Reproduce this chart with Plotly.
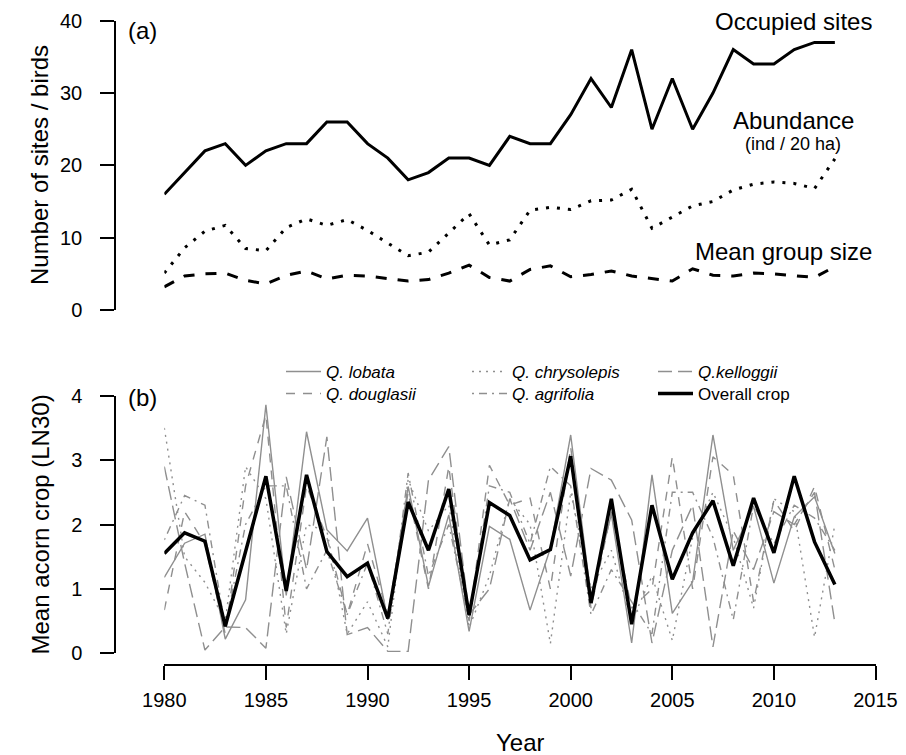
import plotly.graph_objects as go

# ---------------- data ----------------
years = list(range(1980, 2014))

occupied_sites = [16, 19, 22, 23, 20, 22, 23, 23, 26, 26, 23, 21, 18, 19, 21, 21, 20,
                  24, 23, 23, 27, 32, 28, 36, 25, 32, 25, 30, 36, 34, 34, 36, 37, 37]
abundance = [5.1, 8.6, 10.9, 11.7, 8.5, 8.2, 11.4, 12.6, 11.7, 12.5, 11.0, 9.3, 7.5, 8.0,
             10.7, 13.3, 9.0, 9.7, 13.8, 14.2, 13.9, 15.1, 15.2, 16.7, 11.3, 12.8, 14.4,
             15.0, 16.6, 17.4, 17.7, 17.5, 16.8, 20.9]
group_size = [3.2, 4.7, 5.0, 5.1, 4.1, 3.6, 4.8, 5.4, 4.3, 4.8, 4.7, 4.3, 4.0, 4.2, 5.1,
              6.2, 4.5, 4.0, 5.6, 6.1, 4.6, 4.9, 5.4, 4.7, 4.3, 4.0, 5.7, 4.8, 4.7, 5.1,
              5.0, 4.7, 4.5, 6.0]

q_lobata = [1.18, 1.71, 1.85, 0.22, 0.83, 3.86, 0.90, 3.44, 1.92, 1.59, 2.10, 0.52, 2.59,
            1.04, 2.15, 0.34, 1.97, 1.77, 0.67, 1.63, 3.39, 0.88, 2.16, 0.16, 2.77, 0.62,
            1.11, 3.39, 1.60, 2.28, 1.09, 2.12, 2.43, 1.55]
q_douglasii = [0.67, 2.2, 1.7, 0.3, 2.6, 3.7, 0.4, 2.6, 1.8, 0.6, 1.7, 0.6, 2.5, 1.0, 2.9,
               0.5, 2.92, 2.3, 2.41, 1.0, 3.2, 0.7, 2.2, 0.7, 1.0, 3.05, 1.0, 3.05, 2.77,
               0.8, 2.38, 1.9, 2.59, 1.3]
q_chrysolepis = [3.5, 1.5, 1.1, 0.5, 2.9, 2.4, 0.3, 2.0, 1.9, 0.3, 0.8, 0.1, 2.7, 1.9, 2.3,
                 0.4, 1.2, 2.4, 2.0, 0.15, 2.5, 1.0, 1.6, 0.5, 1.2, 0.2, 1.8, 2.5, 1.8, 0.7,
                 2.4, 2.2, 0.25, 2.0]
q_agrifolia = [1.76, 2.45, 2.30, 0.4, 2.0, 2.6, 2.6, 1.0, 1.6, 0.6, 1.4, 0.3, 2.8, 1.2, 2.0,
               0.5, 2.6, 2.5, 1.7, 2.9, 2.6, 0.6, 1.3, 0.8, 0.3, 2.5, 2.5, 1.8, 0.52, 2.3,
               1.7, 2.3, 2.1, 1.6]
q_kelloggii = [2.9, 1.4, 0.05, 0.41, 0.40, 0.08, 2.74, 1.3, 3.36, 0.29, 0.40, 0.03, 0.03,
               2.69, 3.21, 0.6, 1.0, 2.4, 1.6, 2.5, 1.2, 2.87, 2.69, 2.07, 0.16, 1.6, 2.3,
               0.10, 1.9, 1.3, 2.2, 2.0, 2.5, 0.47]
overall_crop = [1.55, 1.87, 1.74, 0.42, 1.58, 2.75, 0.97, 2.77, 1.58, 1.19, 1.40, 0.54, 2.35,
                1.60, 2.55, 0.59, 2.34, 2.14, 1.45, 1.61, 3.06, 0.78, 2.40, 0.45, 2.30, 1.15,
                1.87, 2.37, 1.36, 2.41, 1.56, 2.75, 1.73, 1.07]

x_ticks = [1980, 1985, 1990, 1995, 2000, 2005, 2010, 2015]
ya_ticks = [0, 10, 20, 30, 40]
yb_ticks = [0, 1, 2, 3, 4]

# ---------------- layout helpers ----------------
# The page body has an 8px margin, so the figure is drawn 8px in from the
# window's top-left corner; positions below are given in window pixels.
OFF = 8
W, H = 906 - OFF, 755 - OFF
FONT = "Liberation Sans, Arial, Helvetica, sans-serif"


def px(p):
    return (p - OFF) / W


def py(p):
    return 1 - (p - OFF) / H


GRAY = "#8f8f8f"

fig = go.Figure()

# panel (a)
fig.add_trace(go.Scatter(x=years, y=occupied_sites, mode="lines", xaxis="x2", yaxis="y2",
                         line=dict(color="black", width=3), showlegend=False))
fig.add_trace(go.Scatter(x=years, y=abundance, mode="lines", xaxis="x2", yaxis="y2",
                         line=dict(color="black", width=3, dash="3px,8px"), showlegend=False))
fig.add_trace(go.Scatter(x=years, y=group_size, mode="lines", xaxis="x2", yaxis="y2",
                         line=dict(color="black", width=3, dash="11px,11px"), showlegend=False))

# panel (b): (name, values, dash, legend id, column, row)
species = [
    ("<i>Q. lobata</i>", q_lobata, "solid", "legend", 0, 0),
    ("<i>Q. douglasii</i>", q_douglasii, "9px,8px", "legend2", 0, 1),
    ("<i>Q. chrysolepis</i>", q_chrysolepis, "2px,5px", "legend3", 1, 0),
    ("<i>Q. agrifolia</i>", q_agrifolia, "2px,5px,8px,5px", "legend4", 1, 1),
    ("<i>Q.kelloggii</i>", q_kelloggii, "14px,6px", "legend5", 2, 0),
]
legend_pos = {}
for name, vals, dash, leg, col, row in species:
    fig.add_trace(go.Scatter(x=years, y=vals, mode="lines", name=name, legend=leg,
                             line=dict(color=GRAY, width=1.4, dash=dash)))
    legend_pos[leg] = (col, row)
fig.add_trace(go.Scatter(x=years, y=overall_crop, mode="lines", name="Overall crop",
                         legend="legend6", line=dict(color="black", width=3.5)))
legend_pos["legend6"] = (2, 1)

xdom = [px(164.3), px(875.5)]
axis_common = dict(showgrid=False, zeroline=False, showline=True, linecolor="black",
                   linewidth=1.5, ticks="outside", ticklen=14, tickwidth=1.5,
                   tickcolor="black", automargin=False,
                   tickfont=dict(family=FONT, size=20, color="black"))

fig.update_layout(
    width=W, height=H,
    margin=dict(l=0, r=0, t=0, b=0, autoexpand=False),
    paper_bgcolor="white", plot_bgcolor="white",
    font=dict(family=FONT, color="black"),
    xaxis=dict(domain=xdom, range=[1980, 2015], anchor="free", position=py(665),
               tickvals=x_ticks, ticklabelstandoff=3, **axis_common),
    yaxis=dict(domain=[py(653.3), py(395.7)], range=[0, 4], anchor="free",
               position=px(115), tickvals=yb_ticks, ticklabelstandoff=14, **axis_common),
    xaxis2=dict(domain=xdom, range=[1980, 2015], anchor="y2", visible=False),
    yaxis2=dict(domain=[py(310), py(20.7)], range=[0, 40], anchor="free",
                position=px(115), tickvals=ya_ticks, ticklabelstandoff=14, **axis_common),
)

col_x = [282, 468, 654]
row_y = [372, 394]
for leg, (col, row) in legend_pos.items():
    fig.update_layout({leg: dict(x=px(col_x[col] - 1), y=py(row_y[row]), xanchor="left",
                                 yanchor="middle", orientation="v", itemwidth=35,
                                 bgcolor="rgba(0,0,0,0)", borderwidth=0,
                                 font=dict(family=FONT, size=17, color="black"))})

annotations = [
    dict(text="(a)", x=px(127), y=py(30), xanchor="left", size=24, h=28),
    dict(text="(b)", x=px(127), y=py(397), xanchor="left", size=24, h=28),
    dict(text="Occupied sites", x=px(793), y=py(21.5), xanchor="center", size=24, h=27),
    dict(text="Abundance", x=px(793), y=py(120), xanchor="center", size=24, h=22),
    dict(text="(ind / 20 ha)", x=px(793), y=py(143.5), xanchor="center", size=18, h=20),
    dict(text="Mean group size", x=px(783), y=py(251), xanchor="center", size=24, h=28),
    dict(text="Year", x=px(520), y=py(742), xanchor="center", size=24, h=24),
]
for a in annotations:
    fig.add_annotation(text=a["text"], x=a["x"], y=a["y"], xref="paper", yref="paper",
                       xanchor=a["xanchor"], yanchor="middle", showarrow=False,
                       height=a["h"], valign="middle", borderpad=0,
                       font=dict(family=FONT, size=a["size"], color="black"))

for text, yc in [("Number of sites / birds", 165), ("Mean acorn crop (LN30)", 524.5)]:
    fig.add_annotation(text=text, x=px(40), y=py(yc), xref="paper", yref="paper",
                       xanchor="center", yanchor="middle", textangle=-90, showarrow=False,
                       font=dict(family=FONT, size=24, color="black"))

fig.write_html("out.html")
